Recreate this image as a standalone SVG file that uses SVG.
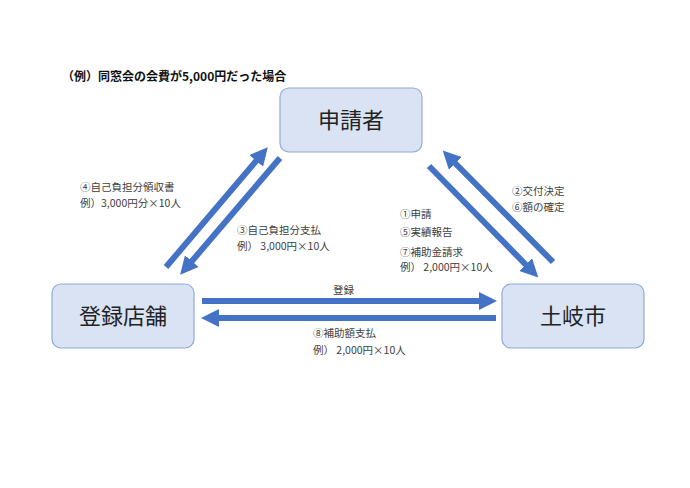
<svg xmlns="http://www.w3.org/2000/svg" width="690" height="488" viewBox="0 0 690 488">
<style>
text{font-family:"Noto Sans CJK JP","Noto Sans",sans-serif;fill:#404040}
.box{fill:#dae3f3;stroke:#8faadc;stroke-width:1.2}
.big{font-size:22px;fill:#222;text-anchor:middle}
.lbl{font-size:10.5px}
.ar{stroke:#4472c4;stroke-width:6;fill:none;marker-end:url(#h)}
</style>
<defs><marker id="h" markerWidth="3" markerHeight="3" refX="1.5" refY="1.5" orient="auto"><path d="M0,0L3,1.5L0,3z" fill="#4472c4"/></marker></defs>
<rect width="690" height="488" fill="#fff"/>
<text x="62" y="81" style="font-size:12px;font-weight:bold;fill:#111">（例）同窓会の会費が5,000円だった場合</text>
<g id="n1"><rect class="box" x="280" y="88" width="142" height="64" rx="9"/><text class="big" x="351" y="128">申請者</text></g>
<g id="n2"><rect class="box" x="52" y="284" width="142" height="64" rx="9"/><text class="big" x="123" y="324">登録店舗</text></g>
<g id="n3"><rect class="box" x="502" y="284" width="142" height="64" rx="9"/><text class="big" x="573" y="324">土岐市</text></g>
<g id="connectors">
<line class="ar" x1="166" y1="267" x2="262" y2="154"/>
<line class="ar" x1="280" y1="158" x2="186" y2="268"/>
<line class="ar" x1="429" y1="166" x2="532" y2="271"/>
<line class="ar" x1="553" y1="262" x2="449" y2="157"/>
<line class="ar" x1="202" y1="301" x2="488" y2="301"/>
<line class="ar" x1="496" y1="318" x2="210" y2="318"/>
</g>
<g class="lbl">
<text class="lbl" x="80" y="191">④自己負担分領収書</text>
<text class="lbl" x="80" y="207">例）3,000円分×10人</text>
<text class="lbl" x="237" y="234">③自己負担分支払</text>
<text class="lbl" x="237" y="250">例） 3,000円×10人</text>
<text class="lbl" x="400" y="218">①申請</text>
<text class="lbl" x="400" y="236">⑤実績報告</text>
<text class="lbl" x="400" y="256">⑦補助金請求</text>
<text class="lbl" x="400" y="271">例） 2,000円×10人</text>
<text class="lbl" x="512" y="195">②交付決定</text>
<text class="lbl" x="512" y="211">⑥額の確定</text>
<text class="lbl" x="333" y="294">登録</text>
<text class="lbl" x="313" y="337">⑧補助額支払</text>
<text class="lbl" x="313" y="354">例） 2,000円×10人</text>
</g>
</svg>
